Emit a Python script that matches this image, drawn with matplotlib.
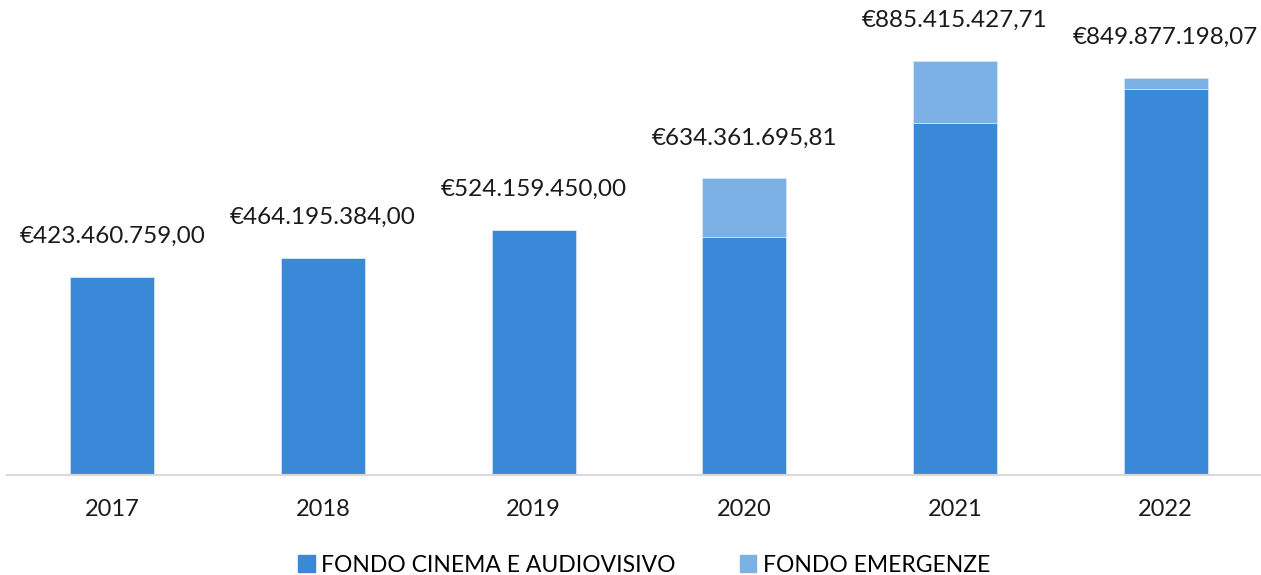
import numpy as np
import matplotlib.pyplot as plt
from matplotlib.patches import Patch

plt.rcParams['font.family'] = ['Lato', 'DejaVu Sans']

anni = ['2017', '2018', '2019', '2020', '2021', '2022']
fondo_cinema = [423460759.00, 464195384.00, 524159450.00, 509000000.0, 752000000.0, 826000000.0]
totali = [423460759.00, 464195384.00, 524159450.00, 634361695.81, 885415427.71, 849877198.07]
etichette = ['€423.460.759,00', '€464.195.384,00', '€524.159.450,00',
             '€634.361.695,81', '€885.415.427,71', '€849.877.198,07']
fondo_emergenze = [t - c for t, c in zip(totali, fondo_cinema)]

c_cinema = '#3a89d9'
c_emerg = '#7bb1e4'

fig = plt.figure(figsize=(12.61, 5.75), dpi=100)
ax = fig.add_axes([7 / 1261, 100 / 575, 1264 / 1261, 475 / 575])

x = np.arange(len(anni))
ax.bar(x, fondo_cinema, width=0.4, color=c_cinema, edgecolor='#dbe8f6', linewidth=0.5)
ax.bar(x, fondo_emergenze, width=0.4, bottom=fondo_cinema, color=c_emerg,
       edgecolor='#dbe8f6', linewidth=0.5)

for i, (t, lab) in enumerate(zip(totali, etichette)):
    ax.annotate(lab, (x[i], t), xytext=(0, 30), textcoords='offset pixels',
                ha='center', va='bottom', fontsize=17.5, color='#1a1a1a')

ax.set_xlim(-0.5, 5.5)
ax.set_ylim(0, 1016e6)
ax.set_xticks(x)
ax.set_xticklabels(anni, fontsize=17, color='#1a1a1a')
ax.tick_params(axis='x', length=0, pad=17)
ax.set_yticks([])
for s in ['top', 'right', 'left']:
    ax.spines[s].set_visible(False)
ax.spines['bottom'].set_color('#d9d9d9')
ax.spines['bottom'].set_linewidth(1.5)

handles = [Patch(color=c_cinema, label='FONDO CINEMA E AUDIOVISIVO'),
           Patch(color=c_emerg, label='FONDO EMERGENZE')]
leg = fig.legend(handles=handles, loc='center', ncol=2, frameon=False, fontsize=16.5,
                 handlelength=0.7, handleheight=0.7, handletextpad=0.3, columnspacing=2.8)
leg.set_bbox_to_anchor((0.511, 10 / 575), transform=fig.transFigure)

fig.savefig('out.png', dpi=100)
